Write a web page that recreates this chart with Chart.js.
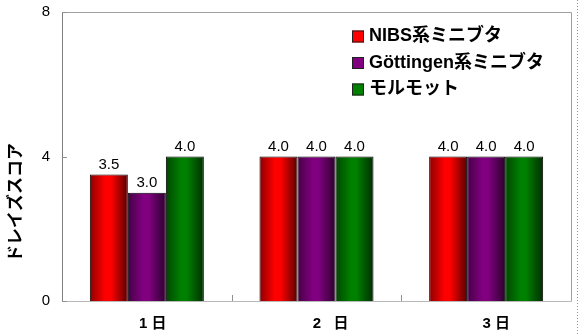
<!DOCTYPE html>
<html><head><meta charset="utf-8">
<script src="https://cdn.jsdelivr.net/npm/chart.js@4"></script>
<style>html,body{margin:0;padding:0;background:#fff}#wrap{width:579px;height:336px;position:relative}</style>
</head><body><div id="wrap"><canvas id="c" width="579" height="336"></canvas></div>
<script>
const categories = ['1 日  ', '  2   日', '3 日'];
const seriesNames = ['NIBS系ミニブタ', 'Göttingen系ミニブタ', 'モルモット'];
const nibsValues = [3.5, 4.0, 4.0];
const gottingenValues = [3.0, 4.0, 4.0];
const guineaPigValues = [4.0, 4.0, 4.0];
const yTicks = [0, 4, 8];
const yTitle = 'ドレイズスコア';
const baseColors = [[255, 0, 0], [128, 0, 128], [0, 128, 0]];

const LATIN = '"Liberation Sans", "Noto Sans CJK JP", sans-serif';
const CJK = '"Noto Sans CJK JP", sans-serif';

function rgb(c, f) { return 'rgb(' + c.map(v => Math.round(v * f)).join(',') + ')'; }

const gradientPlugin = {
  id: 'grad',
  beforeDatasetsDraw(chart) {
    const ctx = chart.ctx;
    chart.data.datasets.forEach((ds, di) => {
      const meta = chart.getDatasetMeta(di);
      meta.data.forEach(el => {
        const l = el.x - el.width / 2, r = el.x + el.width / 2;
        const g = ctx.createLinearGradient(l, 0, r, 0);
        const c = baseColors[di];
        g.addColorStop(0, rgb(c, 0.55));
        g.addColorStop(0.4, rgb(c, 1));
        g.addColorStop(0.55, rgb(c, 1));
        g.addColorStop(1, rgb(c, 0.35));
        el.options.backgroundColor = g;
      });
    });
  }
};

const framePlugin = {
  id: 'frame',
  afterDatasetsDraw(chart) {
    const {ctx, chartArea: a, scales} = chart;
    ctx.save();
    ctx.lineWidth = 1;
    ctx.strokeStyle = '#a0a0a0';
    ctx.beginPath();
    ctx.moveTo(a.left, a.top + 0.5); ctx.lineTo(a.right + 0.5, a.top + 0.5);
    ctx.lineTo(a.right + 0.5, a.bottom + 0.5);
    ctx.stroke();
    ctx.strokeStyle = '#b8b8b8';
    ctx.beginPath();
    ctx.moveTo(a.left, a.bottom + 0.5); ctx.lineTo(a.right + 0.5, a.bottom + 0.5);
    ctx.stroke();
    ctx.strokeStyle = '#808080';
    ctx.beginPath();
    ctx.moveTo(a.left + 0.5, a.top); ctx.lineTo(a.left + 0.5, a.bottom + 1);
    ctx.stroke();
    ctx.strokeStyle = '#909090';
    ctx.beginPath();
    yTicks.forEach(v => {
      const y = Math.round(scales.y.getPixelForValue(v)) + 0.5;
      ctx.moveTo(a.left, y); ctx.lineTo(a.left + 5, y);
    });
    for (let i = 0; i < categories.length - 1; i++) {
      const x = Math.round((scales.x.getPixelForValue(i) + scales.x.getPixelForValue(i + 1)) / 2) + 0.5;
      ctx.moveTo(x, a.bottom); ctx.lineTo(x, a.bottom - 6);
    }
    ctx.stroke();
    ctx.restore();
  }
};

const labelPlugin = {
  id: 'vals',
  afterDatasetsDraw(chart) {
    const ctx = chart.ctx;
    ctx.save();
    ctx.font = '15px ' + LATIN;
    ctx.fillStyle = '#000';
    ctx.textAlign = 'center';
    ctx.textBaseline = 'alphabetic';
    chart.data.datasets.forEach((ds, di) => {
      chart.getDatasetMeta(di).data.forEach((el, i) => {
        ctx.fillText(ds.data[i].toFixed(1), el.x, el.y - 6);
      });
    });
    ctx.restore();
  }
};

const decoPlugin = {
  id: 'deco',
  afterDraw(chart) {
    const ctx = chart.ctx;
    ctx.save();
    ctx.translate(14.5, 202.5);
    ctx.rotate(-Math.PI / 2);
    ctx.font = 'bold 17px ' + CJK;
    ctx.fillStyle = '#000';
    ctx.textAlign = 'center';
    ctx.textBaseline = 'middle';
    ctx.fillText(yTitle, 0, 0);
    ctx.restore();
    ctx.save();
    const rows = [36.5, 63, 89.5];
    chart.data.datasets.forEach((ds, di) => {
      const y = rows[di];
      const c = baseColors[di];
      ctx.fillStyle = rgb(c, 1);
      ctx.fillRect(352, y - 6, 12, 12);
      ctx.strokeStyle = '#202020';
      ctx.lineWidth = 1;
      ctx.strokeRect(352.5, y - 5.5, 11, 11);
      ctx.fillStyle = '#000';
      ctx.font = 'bold 18px ' + LATIN;
      ctx.textAlign = 'left';
      ctx.textBaseline = 'middle';
      ctx.fillText(ds.label, 369, y);
    });
    ctx.restore();
    ctx.save();
    ctx.strokeStyle = '#33dd33';
    ctx.lineWidth = 1;
    ctx.setLineDash([1, 2]);
    ctx.beginPath();
    ctx.moveTo(577.5, 0); ctx.lineTo(577.5, 336);
    ctx.stroke();
    ctx.restore();
  }
};

const valueSets = [nibsValues, gottingenValues, guineaPigValues];

new Chart(document.getElementById('c'), {
  type: 'bar',
  data: {
    labels: categories,
    datasets: seriesNames.map((name, i) => ({
      label: name,
      data: valueSets[i],
      backgroundColor: () => rgb(baseColors[i], 1),
      borderColor: '#000',
      borderWidth: 1,
      categoryPercentage: 0.672,
      barPercentage: 1
    }))
  },
  options: {
    responsive: false,
    animation: false,
    devicePixelRatio: 1,
    layout: {padding: {left: 0, right: 8, top: 12, bottom: 0}},
    plugins: {legend: {display: false}, tooltip: {enabled: false}},
    scales: {
      x: {
        grid: {display: false, drawTicks: false},
        border: {display: false},
        ticks: {font: {family: LATIN, size: 15, weight: 'bold'}, color: '#000', padding: 14, labelOffset: 10, maxRotation: 0, autoSkip: false},
        afterFit: s => { s.height = 35; s.paddingLeft = 0; s.paddingRight = 0; }
      },
      y: {
        min: 0, max: 8,
        afterBuildTicks: s => { s.ticks = yTicks.map(v => ({value: v})); },
        grid: {display: false, drawTicks: false},
        border: {display: false},
        ticks: {font: {family: LATIN, size: 15}, color: '#000', padding: 12},
        afterFit: s => { s.width = 62; s.paddingTop = 0; s.paddingBottom = 0; }
      }
    }
  },
  plugins: [gradientPlugin, framePlugin, labelPlugin, decoPlugin]
});
</script>
</body></html>
